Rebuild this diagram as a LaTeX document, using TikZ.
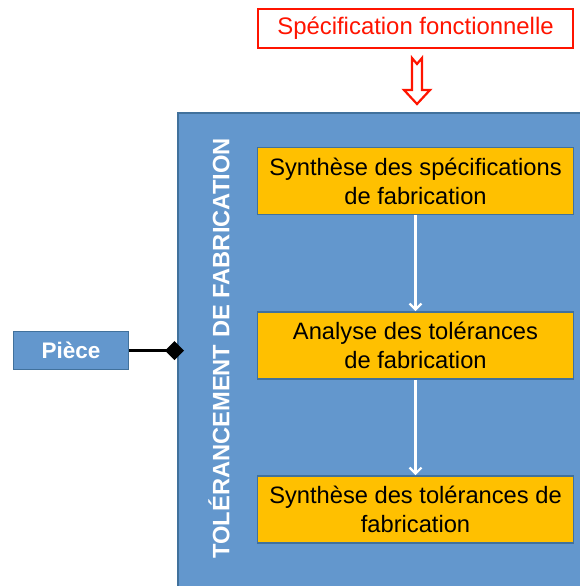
\documentclass[tikz,border=0pt]{standalone}
\usepackage{fontspec}
\setmainfont{Liberation Sans}
\usetikzlibrary{arrows.meta}
\definecolor{bluefill}{RGB}{99,151,205}
\definecolor{blueedge}{RGB}{65,113,156}
\definecolor{yel}{RGB}{255,192,0}
\definecolor{redc}{RGB}{255,20,0}
\tikzset{
  yelbox/.style={draw=blueedge, line width=1.8pt, fill=yel, minimum width=316pt, minimum height=67pt, align=center, inner sep=0pt,
    font=\fontsize{23.7}{29}\selectfont, text=black},
  flowarrow/.style={draw=white, line width=2.6pt, -{Straight Barb[length=6pt,width=12pt,line width=2.2pt]}},
}
\begin{document}
\begin{tikzpicture}[x=1pt,y=-1pt]
\useasboundingbox (0,0) rectangle (579,586);
% big container
\draw[fill=bluefill, draw=blueedge, line width=2pt] (178,113) rectangle (600,610);
\node[rotate=90, text=white, font=\bfseries\fontsize{23.7}{28}\selectfont, inner sep=0pt] (title) at (219,348.5) {TOLÉRANCEMENT DE FABRICATION};
% red spec box
\node[draw=redc, line width=2.2pt, fill=white, minimum width=315pt, minimum height=39pt, inner sep=0pt, text=redc, font=\fontsize{23.9}{28}\selectfont] (spec) at (415.5,28.5) {Spécification fonctionnelle};
% hollow arrow
\draw[draw=redc, fill=white, line width=2.2pt, line join=miter]
  (412,58) -- (417,64) -- (422,58) -- (422,90) -- (430,90) -- (417,104) -- (404,90) -- (412,90) -- cycle;
% yellow boxes
\node[yelbox] (b1) at (415.5,181) {Synthèse des spécifications\\de fabrication};
\node[yelbox] (b2) at (415.5,345.5) {Analyse des tolérances\\de fabrication};
\node[yelbox] (b3) at (415.5,509.5) {Synthèse des tolérances de\\fabrication};
\draw[flowarrow] (b1.south) -- (b2.north);
\draw[flowarrow] (b2.south) -- (b3.north);
% Piece
\node[draw=blueedge, line width=1.8pt, fill=bluefill, minimum width=115pt, minimum height=38pt, inner sep=0pt, text=white, font=\bfseries\fontsize{22.5}{26}\selectfont] (piece) at (71,350.5) {Pièce};
\coordinate (dtip) at (184,350.5);
\draw[line width=3pt, -{Diamond[length=19pt,width=19pt]}] (piece.east) -- (dtip);
\end{tikzpicture}
\end{document}
